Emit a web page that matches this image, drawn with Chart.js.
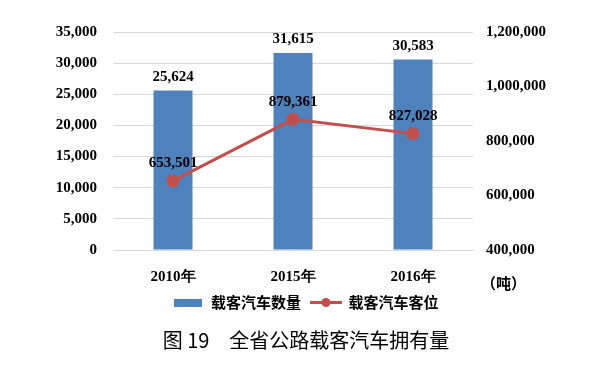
<!DOCTYPE html>
<html>
<head>
<meta charset="utf-8">
<script src="https://cdn.jsdelivr.net/npm/chart.js@4/dist/chart.umd.min.js"></script>
<style>
  html, body { margin: 0; padding: 0; background: #fff; }
  #wrap { width: 612px; height: 366px; position: relative; }
</style>
</head>
<body>
<div id="wrap"><canvas id="chart"></canvas></div>
<script>
// Chart data
const years = ['2010年', '2015年', '2016年'];
const busCount = [25624, 31615, 30583];
const busSeats = [653501, 879361, 827028];
const seriesNames = ['载客汽车数量', '载客汽车客位'];
const chartTitle = '图 19　全省公路载客汽车拥有量';
const unitLabel = '（吨）';

const blue = '#4F81BD';
const red = '#C0504D';
const numFont = '"Liberation Serif", "Times New Roman", serif';
const cjkFont = '"Noto Sans CJK SC", sans-serif';

// Small legend icons
function makeBarIcon() {
  const c = document.createElement('canvas');
  c.width = 28; c.height = 8;
  const ctx = c.getContext('2d');
  ctx.fillStyle = blue;
  ctx.fillRect(0, 0, 28, 8);
  return c;
}

function makeLineIcon() {
  const c = document.createElement('canvas');
  c.width = 32; c.height = 11;
  const ctx = c.getContext('2d');
  ctx.strokeStyle = red;
  ctx.lineWidth = 3;
  ctx.beginPath();
  ctx.moveTo(0, 5.5);
  ctx.lineTo(32, 5.5);
  ctx.stroke();
  ctx.fillStyle = red;
  ctx.beginPath();
  ctx.arc(16, 5.5, 4.5, 0, Math.PI * 2);
  ctx.fill();
  return c;
}

const legendIcons = [makeBarIcon(), makeLineIcon()];

// Draw value labels above bars and points
const valueLabels = {
  id: 'valueLabels',
  afterDatasetsDraw(chart) {
    const ctx = chart.ctx;
    ctx.save();
    ctx.font = 'bold 15px ' + numFont;
    ctx.fillStyle = '#000';
    ctx.textAlign = 'center';
    ctx.textBaseline = 'bottom';
    chart.data.datasets.forEach((ds, i) => {
      const meta = chart.getDatasetMeta(i);
      const gap = ds.type === 'bar' ? 6 : 10;
      meta.data.forEach((el, j) => {
        ctx.fillText(ds.data[j].toLocaleString('en-US'), el.x, el.y - gap);
      });
    });
    ctx.restore();
  }
};

// Unit text under the right axis
const unitText = {
  id: 'unitText',
  afterDraw(chart) {
    const ctx = chart.ctx;
    const right = chart.scales.y1;
    ctx.save();
    ctx.font = 'bold 15px ' + cjkFont;
    ctx.fillStyle = '#000';
    ctx.textAlign = 'left';
    ctx.textBaseline = 'middle';
    ctx.fillText(unitLabel, right.left + 8, chart.chartArea.bottom + 33);
    ctx.restore();
  }
};

new Chart(document.getElementById('chart'), {
  data: {
    labels: years,
    datasets: [
      {
        type: 'bar',
        label: seriesNames[0],
        data: busCount,
        backgroundColor: blue,
        yAxisID: 'y',
        barPercentage: 0.325,
        categoryPercentage: 1,
        order: 1
      },
      {
        type: 'line',
        label: seriesNames[1],
        data: busSeats,
        borderColor: red,
        backgroundColor: red,
        borderWidth: 3,
        pointRadius: 5,
        pointBackgroundColor: red,
        pointBorderColor: red,
        yAxisID: 'y1',
        order: 0
      }
    ]
  },
  options: {
    responsive: true,
    maintainAspectRatio: false,
    animation: false,
    layout: { padding: { top: 32, left: 0, right: 0, bottom: 0 } },
    plugins: {
      tooltip: { enabled: false },
      legend: {
        position: 'bottom',
        labels: {
          usePointStyle: true,
          pointStyleWidth: 30,
          padding: 10,
          color: '#000',
          font: { family: cjkFont, size: 15, weight: 'bold' },
          generateLabels(chart) {
            return chart.data.datasets.map((ds, i) => ({
              text: ds.label,
              pointStyle: legendIcons[i],
              fillStyle: i === 0 ? blue : red,
              strokeStyle: 'transparent',
              lineWidth: 0,
              datasetIndex: i,
              hidden: false
            }));
          }
        }
      },
      title: {
        display: true,
        position: 'bottom',
        text: chartTitle,
        color: '#000',
        font: { family: cjkFont, size: 20, weight: 'normal' },
        padding: { top: 8, bottom: 14 }
      }
    },
    scales: {
      x: {
        grid: { display: false },
        border: { display: true, color: '#D9D9D9', width: 1 },
        ticks: {
          color: '#000',
          padding: 10,
          font: { family: numFont, size: 15, weight: 'bold' }
        },
        afterFit(scale) { scale.height = 35; }
      },
      y: {
        position: 'left',
        min: 0,
        max: 35000,
        grid: { color: '#D9D9D9', drawTicks: false },
        border: { display: false },
        ticks: {
          stepSize: 5000,
          color: '#000',
          padding: 16,
          font: { family: numFont, size: 15, weight: 'bold' },
          callback: (v) => v.toLocaleString('en-US')
        },
        afterFit(scale) { scale.width = 113; }
      },
      y1: {
        position: 'right',
        min: 400000,
        max: 1200000,
        grid: { display: false, drawTicks: false },
        border: { display: false },
        ticks: {
          stepSize: 200000,
          color: '#000',
          padding: 13,
          font: { family: numFont, size: 15, weight: 'bold' },
          callback: (v) => v.toLocaleString('en-US')
        },
        afterFit(scale) { scale.width = 139; }
      }
    }
  },
  plugins: [valueLabels, unitText]
});
</script>
</body>
</html>
